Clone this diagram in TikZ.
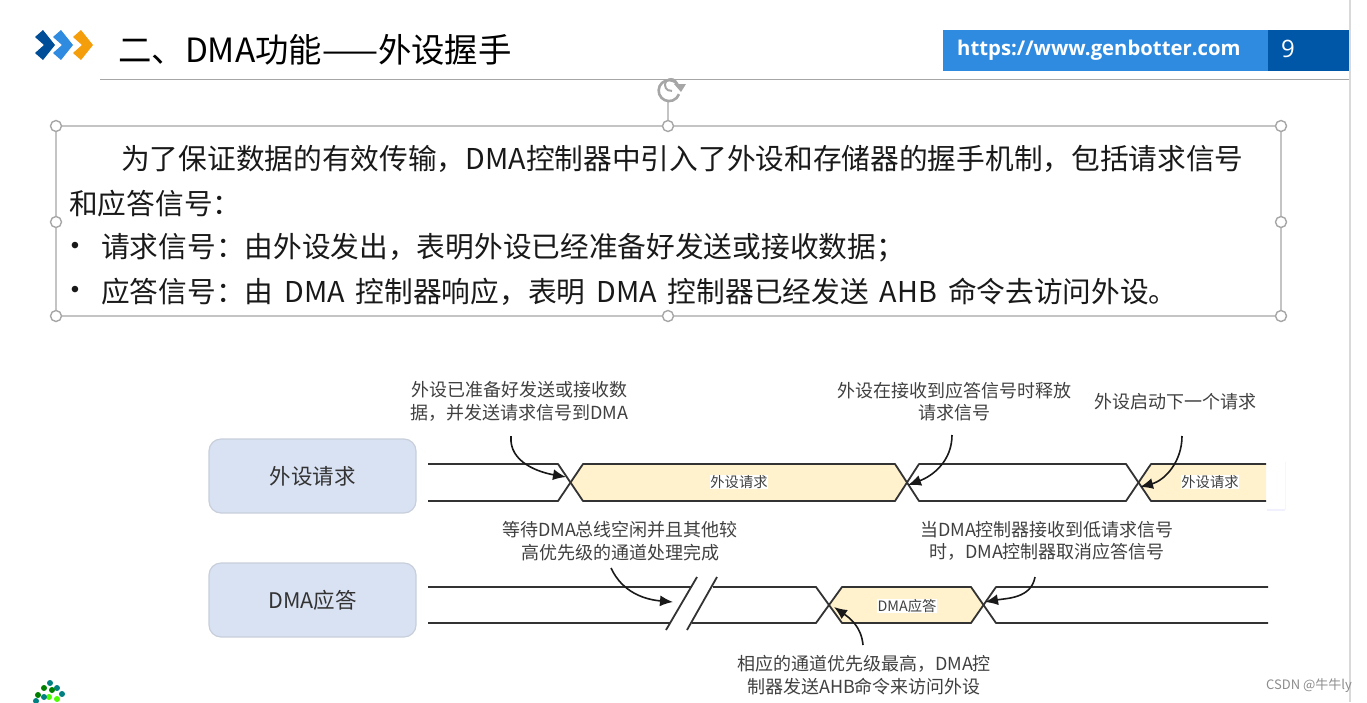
\documentclass[tikz,border=0pt]{standalone}
\usepackage{fontspec}
\setmainfont{Noto Sans CJK SC}
\newfontfamily\urlfont{Open Sans}
\newfontfamily\dotfont{Liberation Sans}
\usetikzlibrary{arrows.meta, positioning}

\definecolor{boxfill}{HTML}{D9E2F3}
\definecolor{boxline}{HTML}{C8CFDB}
\definecolor{bandfill}{HTML}{FFF2CC}
\definecolor{handleline}{HTML}{A6A6A6}
\definecolor{selectline}{HTML}{C4C4C4}
\definecolor{notetext}{HTML}{404040}
\definecolor{urlblue}{HTML}{2E8BE0}
\definecolor{pageblue}{HTML}{0057A8}
\definecolor{chevorange}{HTML}{F59E0B}

\begin{document}
\begin{tikzpicture}[
  x=1pt, y=-1pt,
  body/.style={anchor=west, inner sep=0pt, font=\fontsize{28.7}{34}\selectfont, text=black!90},
  bullet/.style={inner sep=0pt, font=\dotfont\fontsize{24}{28}\selectfont, text=black!90},
  note/.style={inner sep=0pt, align=center, text=notetext, font=\fontsize{18}{22.5}\selectfont},
  signal/.style={rounded corners=12pt, draw=boxline, line width=1.2pt, fill=boxfill, inner sep=0pt,
    minimum width=207pt, minimum height=74pt, text=black!80},
  bandlabel/.style={fill=white, inner sep=0.5pt, text=notetext, font=\fontsize{14.3}{16}\selectfont},
  handle/.style={circle, draw=handleline, fill=white, line width=1.4pt, minimum size=11pt, inner sep=0pt},
  wave/.style={line width=1.8pt, draw=black!80, line join=round},
  edge/.style={-{Latex[length=13pt,width=11pt]}, line width=1.6pt, black!90}
]
\useasboundingbox (0,0) rectangle (1367,702);

% header
\fill[pageblue!90!black] (35,37) -- (43,30) -- (55,45) -- (43,60) -- (35,53) -- (44,45) -- cycle;
\fill[urlblue] (53,37) -- (61,30) -- (73,45) -- (61,60) -- (53,53) -- (62,45) -- cycle;
\fill[chevorange] (73,37) -- (81,30) -- (93,45) -- (81,60) -- (73,53) -- (82,45) -- cycle;
\node[anchor=west, inner sep=0pt, font=\fontsize{33.4}{38}\selectfont] (title) at (118,50) {二、DMA功能——外设握手};
\draw[handleline, line width=1pt] (100,79) -- (1350,79);
\fill[urlblue] (943,30) rectangle (1268,71);
\fill[pageblue] (1268,30) rectangle (1350,71);
\node[anchor=west, inner sep=0pt, text=white, font=\urlfont\bfseries\fontsize{20.3}{26}\selectfont] (url) at (957,50) {https://www.genbotter.com};
\node[inner sep=0pt, text=white, font=\urlfont\fontsize{24}{28}\selectfont] (page) at (1288,49) {9};
\draw[black!15, line width=1.2pt] (1350,0) -- (1350,702);

% selected text box
\draw[selectline, line width=1.4pt] (56,126) rectangle (1281,316);
\draw[selectline, line width=1.2pt] (668,126) -- (668,100);
\foreach \x/\y/\name in {56/126/hA, 668/126/hB, 1281/126/hC, 56/222/hD, 1281/222/hE, 56/316/hF, 668/316/hG, 1281/316/hH}
  \node[handle] (\name) at (\x,\y) {};
\draw[handleline, line width=2.6pt] (679,87) arc (-20:-340:10.5);
\draw[handleline, line width=2pt] (677,85) arc (0:-280:6);
\fill[handleline] (674,84) -- (686,84) -- (681,92) -- cycle;

\node[body] (lineA) at (121,159) {为了保证数据的有效传输，DMA控制器中引入了外设和存储器的握手机制，包括请求信号};
\node[body] (lineB) at (69,204) {和应答信号：};
\node[bullet] (dotA) at (75,248) {•};
\node[body] (lineC) at (101,248) {请求信号：由外设发出，表明外设已经准备好发送或接收数据；};
\node[bullet] (dotB) at (75,292) {•};
\node[body] (lineD) at (101,292) {应答信号：由\hspace{11pt}DMA\hspace{11pt}控制器响应，表明\hspace{11pt}DMA\hspace{11pt}控制器已经发送\hspace{11pt}AHB\hspace{11pt}命令去访问外设。};

% left boxes
\node[signal, font=\fontsize{21.5}{26}\selectfont] (req) at (312.5,476) {外设请求};
\node[signal, font=\fontsize{21.5}{26}\selectfont] (ack) at (312.5,600) {DMA应答};

% request wave
\fill[bandfill] (583,464) -- (895,464) -- (906,482) -- (895,501) -- (583,501) -- (571,482) -- cycle;
\fill[bandfill] (1266,464) -- (1151,464) -- (1139,482) -- (1151,501) -- (1266,501) -- cycle;
\draw[wave] (428,464) -- (558,464) -- (583,501) -- (895,501) -- (919,464) -- (1126,464) -- (1151,501) -- (1266,501);
\draw[wave] (428,501) -- (558,501) -- (583,464) -- (895,464) -- (919,501) -- (1126,501) -- (1151,464) -- (1266,464);
\coordinate (crossA) at (566,477);
\coordinate (crossB) at (908,485);
\coordinate (crossC) at (1140,487);
\node[bandlabel] (bandA) at (739,482) {外设请求};
\node[bandlabel] (bandB) at (1210,482) {外设请求};

% ack wave
\fill[bandfill] (842,587) -- (971,587) -- (985,605) -- (971,623) -- (842,623) -- (829,605) -- cycle;
\draw[wave] (428,587) -- (692,587);
\draw[wave] (428,623) -- (670,623);
\draw[wave] (666,630) -- (697,577);
\draw[wave] (687,630) -- (717,577);
\draw[wave] (713,587) -- (816,587) -- (842,623) -- (971,623) -- (996,587) -- (1268,587);
\draw[wave] (692,623) -- (816,623) -- (842,587) -- (971,587) -- (996,623) -- (1268,623);
\coordinate (crossD) at (673,602);
\coordinate (crossE) at (985,602);
\coordinate (crossF) at (834,607);
\node[bandlabel] (bandC) at (907,606) {DMA应答};

% notes
\node[note] (noteA) at (519,401.5) {外设已准备好发送或接收数\\据，并发送请求信号到DMA};
\node[note] (noteB) at (954,401.5) {外设在接收到应答信号时释放\\请求信号};
\node[note] (noteC) at (1175,402) {外设启动下一个请求};
\node[note] (noteD) at (620,541) {等待DMA总线空闲并且其他较\\高优先级的通道处理完成};
\node[note] (noteE) at (1047,541) {当DMA控制器接收到低请求信号\\时，DMA控制器取消应答信号};
\node[note] (noteF) at (864,675) {相应的通道优先级最高，DMA控\\制器发送AHB命令来访问外设};

\coordinate (fromA) at (511,436);
\coordinate (fromB) at (952,435);
\coordinate (fromC) at (1182,436);
\coordinate (fromD) at (611,568);
\coordinate (fromE) at (1035,577);
\coordinate (fromF) at (863,645);

\draw[edge] (fromA) to[out=-95, in=170] (crossA);
\draw[edge] (fromB) to[out=-90, in=20] (crossB);
\draw[edge] (fromC) to[out=-90, in=15] (crossC);
\draw[edge] (fromD) to[out=-65, in=175] (crossD);
\draw[edge] (fromE) to[out=-100, in=10] (crossE);
\draw[edge] (fromF) to[out=95, in=-35] (crossF);

% corner bits
\draw[blue!6, line width=1.2pt] (1267,510) -- (1285,510);
\draw[black!3, line width=1pt] (1285,462) -- (1285,510);
\foreach \x/\y/\col in {38/695/green!50!black, 44/688/green!50!black, 50/683/teal, 57/688/teal, 62/694/teal, 49/697/green!70!yellow, 57/699/green!70!yellow, 36/701/teal, 44/697/teal, 52/690/green!50!black}
  \fill[\col] (\x,\y) circle (3pt);
\node[anchor=east, inner sep=0pt, text=black!45, font=\fontsize{13}{15}\selectfont] (mark) at (1352,686) {CSDN @牛牛ly};
\end{tikzpicture}
\end{document}
